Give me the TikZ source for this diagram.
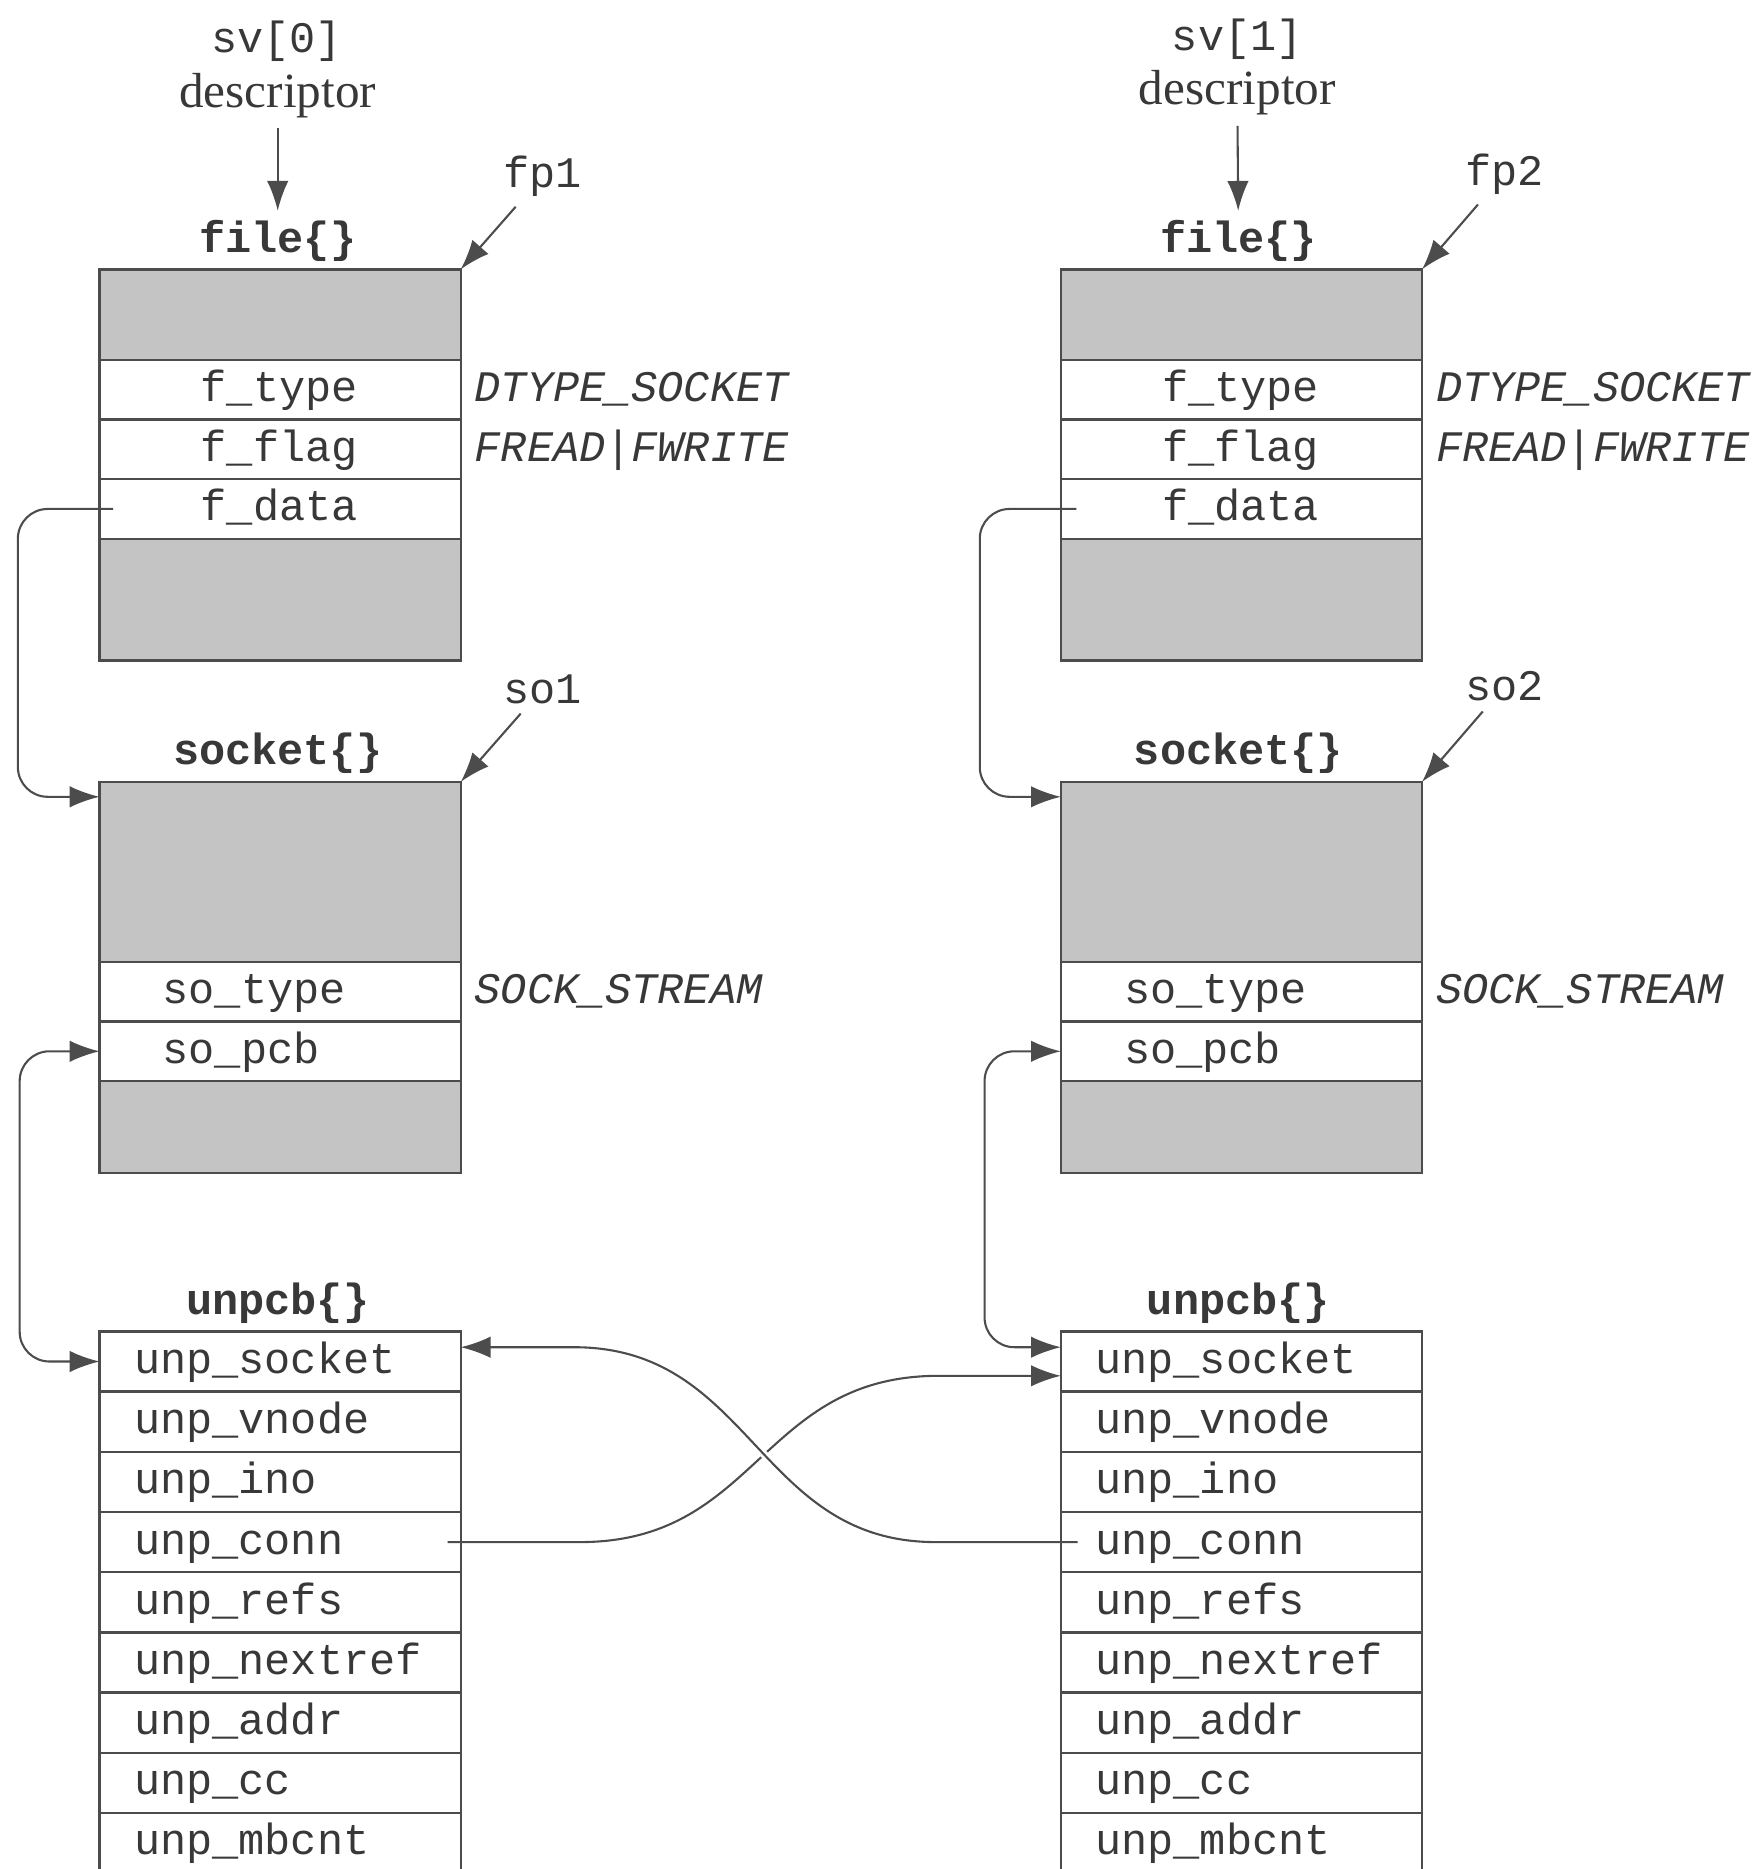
\documentclass[tikz,border=0pt]{standalone}
\usepackage{fontspec}
\setmainfont{Liberation Serif}
\setmonofont{Liberation Mono}
\usetikzlibrary{arrows.meta,positioning}

\definecolor{padgray}{gray}{0.77}
\definecolor{inkgray}{gray}{0.30}
\definecolor{txtgray}{gray}{0.22}

\newcommand{\fldfont}{\fontsize{20.8}{24}\selectfont\ttfamily}
\newcommand{\descfont}{\fontsize{23.5}{28}\selectfont\rmfamily}

\tikzset{
  row/.style={draw=inkgray, line width=0.4mm, fill=white, minimum width=60.6mm,
    minimum height=10mm, inner ysep=0mm, outer sep=0mm, text height=4mm,
    text depth=0mm, text=txtgray, font=\fldfont, align=left},
  filerow/.style={row, inner xsep=17mm, text width=26.6mm},
  sockrow/.style={row, inner xsep=10.6mm, text width=39.4mm},
  unprow/.style={row, inner xsep=5.8mm, text width=49mm, minimum height=10.1mm},
  pad/.style={draw=inkgray, line width=0.4mm, fill=padgray, minimum width=60.6mm,
    minimum height=#1, inner sep=0mm, outer sep=0mm},
  structlbl/.style={font={\fldfont\bfseries}, text=txtgray, inner sep=0.5mm},
  ptrlbl/.style={font=\fldfont, text=txtgray, inner sep=0.5mm},
  desclbl/.style={font=\descfont, text=txtgray, inner sep=0.5mm},
  vallbl/.style={font={\fldfont\itshape}, text=txtgray, inner sep=0mm,
    text height=4mm, text depth=0mm},
  ptr/.style={-{Latex[length=5mm,width=3.6mm]}, draw=inkgray, line width=0.35mm},
  dptr/.style={{Latex[length=5mm,width=3.6mm]}-{Latex[length=5mm,width=3.6mm]},
    draw=inkgray, line width=0.35mm}
}

\begin{document}
\begin{tikzpicture}[x=1mm,y=1mm]
        \path[use as bounding box] (0,0) rectangle (295.4,313.6);

        % left side: sv[0]
        \node[ptrlbl] (sv0) at (46.4,306.6) {sv[0]};
        \node[desclbl] (desc0) at (46.6,297.6) {descriptor};
        \node[structlbl] (file1lbl) at (46.6,273.2) {file\{\}};
        \node[ptrlbl] (fp1) at (91.0,284.0) {fp1};
        \node[pad=15.2mm, anchor=north] (fhead1) at (47,268.4) {};
        \node[filerow, below=0mm of fhead1] (ftype1) {f\_type};
        \node[filerow, below=0mm of ftype1] (fflag1) {f\_flag};
        \node[filerow, below=0mm of fflag1] (fdata1) {f\_data};
        \node[pad=20.4mm, below=0mm of fdata1] (ftail1) {};
        \node[vallbl, right=2.3mm of ftype1] (ftypev1) {DTYPE\_SOCKET};
        \node[vallbl, right=2.3mm of fflag1] (fflagv1) {FREAD|FWRITE};

        \node[structlbl] (sock1lbl) at (46.6,187.2) {socket\{\}};
        \node[ptrlbl] (so1) at (91.0,198.0) {so1};
        \node[pad=30.2mm, anchor=north] (shead1) at (47,182.4) {};
        \node[sockrow, below=0mm of shead1] (stype1) {so\_type};
        \node[sockrow, below=0mm of stype1] (spcb1) {so\_pcb};
        \node[pad=15.4mm, below=0mm of spcb1] (stail1) {};
        \node[vallbl, right=2.3mm of stype1] (stypev1) {SOCK\_STREAM};

        \node[structlbl] (unp1lbl) at (46.6,95.0) {unpcb\{\}};
        \node[unprow, anchor=north] (usock1) at (47,90.2) {unp\_socket};
        \node[unprow, below=0mm of usock1] (uvnode1) {unp\_vnode};
        \node[unprow, below=0mm of uvnode1] (uino1) {unp\_ino};
        \node[unprow, below=0mm of uino1] (uconn1) {unp\_conn};
        \node[unprow, below=0mm of uconn1] (urefs1) {unp\_refs};
        \node[unprow, below=0mm of urefs1] (unext1) {unp\_nextref};
        \node[unprow, below=0mm of unext1] (uaddr1) {unp\_addr};
        \node[unprow, below=0mm of uaddr1] (ucc1) {unp\_cc};
        \node[unprow, below=0mm of ucc1] (umb1) {unp\_mbcnt};

        % right side: sv[1]
        \node[ptrlbl] (sv1) at (207.6,307.0) {sv[1]};
        \node[desclbl] (desc1) at (207.6,298.0) {descriptor};
        \node[structlbl] (file2lbl) at (207.8,273.2) {file\{\}};
        \node[ptrlbl] (fp2) at (252.4,284.4) {fp2};
        \node[pad=15.2mm, anchor=north] (fhead2) at (208.3,268.4) {};
        \node[filerow, below=0mm of fhead2] (ftype2) {f\_type};
        \node[filerow, below=0mm of ftype2] (fflag2) {f\_flag};
        \node[filerow, below=0mm of fflag2] (fdata2) {f\_data};
        \node[pad=20.4mm, below=0mm of fdata2] (ftail2) {};
        \node[vallbl, right=2.3mm of ftype2] (ftypev2) {DTYPE\_SOCKET};
        \node[vallbl, right=2.3mm of fflag2] (fflagv2) {FREAD|FWRITE};

        \node[structlbl] (sock2lbl) at (207.8,187.2) {socket\{\}};
        \node[ptrlbl] (so2) at (252.4,198.4) {so2};
        \node[pad=30.2mm, anchor=north] (shead2) at (208.3,182.4) {};
        \node[sockrow, below=0mm of shead2] (stype2) {so\_type};
        \node[sockrow, below=0mm of stype2] (spcb2) {so\_pcb};
        \node[pad=15.4mm, below=0mm of spcb2] (stail2) {};
        \node[vallbl, right=2.3mm of stype2] (stypev2) {SOCK\_STREAM};

        \node[structlbl] (unp2lbl) at (207.8,95.0) {unpcb\{\}};
        \node[unprow, anchor=north] (usock2) at (208.3,90.2) {unp\_socket};
        \node[unprow, below=0mm of usock2] (uvnode2) {unp\_vnode};
        \node[unprow, below=0mm of uvnode2] (uino2) {unp\_ino};
        \node[unprow, below=0mm of uino2] (uconn2) {unp\_conn};
        \node[unprow, below=0mm of uconn2] (urefs2) {unp\_refs};
        \node[unprow, below=0mm of urefs2] (unext2) {unp\_nextref};
        \node[unprow, below=0mm of unext2] (uaddr2) {unp\_addr};
        \node[unprow, below=0mm of uaddr2] (ucc2) {unp\_cc};
        \node[unprow, below=0mm of ucc2] (umb2) {unp\_mbcnt};

        % pointers
        \draw[ptr, shorten <=1.2mm, shorten >=1mm] (desc0) -- (file1lbl);
        \draw[ptr, shorten <=1.2mm, shorten >=1mm] (desc1) -- (file2lbl);
        \draw[ptr, shorten <=1.5mm] (fp1) -- (fhead1.north east);
        \draw[ptr, shorten <=1.5mm] (fp2) -- (fhead2.north east);
        \draw[ptr, shorten <=1.5mm] (so1) -- (shead1.north east);
        \draw[ptr, shorten <=1.5mm] (so2) -- (shead2.north east);

        \draw[ptr, rounded corners=5mm] ([xshift=2.3mm]fdata1.west) -- ++(-16,0) |- ([yshift=-2.5mm]shead1.north west);
        \draw[ptr, rounded corners=5mm] ([xshift=2.6mm]fdata2.west) -- ++(-16.2,0) |- ([yshift=-2.5mm]shead2.north west);
        \draw[dptr, rounded corners=5mm] (spcb1.west) -- ++(-13.4,0) |- (usock1.west);
        \draw[dptr, rounded corners=5mm] (spcb2.west) -- ++(-12.8,0) |- ([yshift=2.4mm]usock2.west);

        % unp_conn cross-over
        \coordinate (a0) at ([xshift=-2.2mm]uconn1.east);
        \coordinate (a1) at ([xshift=20mm]uconn1.east);
        \coordinate (a2) at ([xshift=-20.5mm,yshift=-2.4mm]usock2.west);
        \coordinate (a3) at ([yshift=-2.4mm]usock2.west);
        \coordinate (b0) at ([xshift=2.8mm]uconn2.west);
        \coordinate (b1) at ([xshift=-21mm]uconn2.west);
        \coordinate (b2) at ([xshift=19mm,yshift=2.4mm]usock1.east);
        \coordinate (b3) at ([yshift=2.4mm]usock1.east);
        \draw[ptr] (a0) -- (a1) .. controls +(30,0) and +(-30,0) .. (a2) -- (a3);
        \draw[white, line width=1.3mm] (b1) .. controls +(-30,0) and +(30,0) .. (b2);
        \draw[ptr] (b0) -- (b1) .. controls +(-30,0) and +(30,0) .. (b2) -- (b3);
      \end{tikzpicture}
\end{document}
